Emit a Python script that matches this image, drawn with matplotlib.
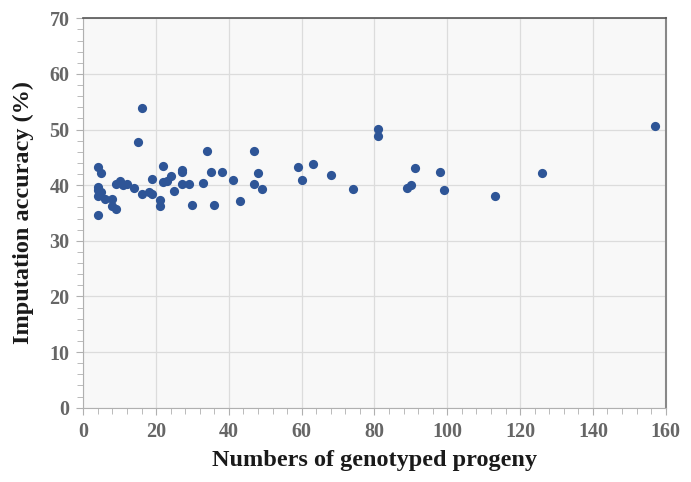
import matplotlib.pyplot as plt
from matplotlib.ticker import MultipleLocator

# numbers of genotyped progeny vs imputation accuracy (%)
progeny = [4, 4, 4, 4, 4, 5, 5, 6, 8, 8, 9, 9, 10, 11, 12, 14, 15, 16, 16,
           18, 19, 19, 21, 21, 22, 22, 23, 24, 25, 27, 27, 27, 29, 30, 33,
           34, 35, 36, 38, 41, 43, 47, 47, 48, 49, 59, 60, 63, 68, 74, 81,
           81, 89, 90, 91, 98, 99, 113, 126, 157]
accuracy = [43.2, 39.7, 39.2, 38.1, 34.7, 42.2, 38.7, 37.5, 37.5, 36.2, 35.8,
            40.2, 40.8, 40.1, 40.3, 39.5, 47.8, 53.8, 38.4, 38.8, 41.2, 38.4,
            37.4, 36.3, 43.5, 40.5, 40.8, 41.7, 38.9, 42.8, 42.3, 40.2, 40.2,
            36.5, 40.4, 46.2, 42.4, 36.4, 42.3, 41.0, 37.2, 46.2, 40.2, 42.2,
            39.3, 43.2, 41.0, 43.8, 41.9, 39.3, 50.1, 48.9, 39.5, 40.0, 43.1,
            42.3, 39.2, 38.0, 42.2, 50.7]

plt.rcParams['font.family'] = ['Liberation Serif', 'DejaVu Serif']

fig = plt.figure(figsize=(6.91, 4.82), dpi=100)
ax = fig.add_axes([0.1205, 0.1541, 0.8429, 0.808])
ax.set_facecolor('#f8f8f8')

ax.scatter(progeny, accuracy, s=44, color='#2e5597', zorder=3, linewidths=0)

ax.set_xlim(0, 160)
ax.set_ylim(0, 70)
ax.xaxis.set_major_locator(MultipleLocator(20))
ax.xaxis.set_minor_locator(MultipleLocator(4))
ax.yaxis.set_major_locator(MultipleLocator(10))
ax.yaxis.set_minor_locator(MultipleLocator(2))
ax.grid(True, which='major', color='#dcdcdc', linewidth=0.9, zorder=0)

for side in ['left', 'bottom']:
    ax.spines[side].set_color('#b0b0b0')
ax.spines['top'].set_color('#555555')
ax.spines['right'].set_color('#888888')
ax.spines['right'].set_linewidth(1.5)
ax.spines['top'].set_linewidth(1.2)

ax.tick_params(which='both', top=False, right=False, color='#b0b0b0')
ax.tick_params(which='major', length=5, labelsize=14.5, labelcolor='#666666', pad=5)
ax.tick_params(which='minor', length=4)
for lab in ax.get_xticklabels() + ax.get_yticklabels():
    lab.set_fontweight('bold')

ax.set_xlabel('Numbers of genotyped progeny', fontsize=17.5, fontweight='bold', color='#1a1a1a', labelpad=6)
ax.set_ylabel('Imputation accuracy (%)', fontsize=17.5, fontweight='bold', color='#1a1a1a', labelpad=11)

fig.savefig('out.png', dpi=100)
